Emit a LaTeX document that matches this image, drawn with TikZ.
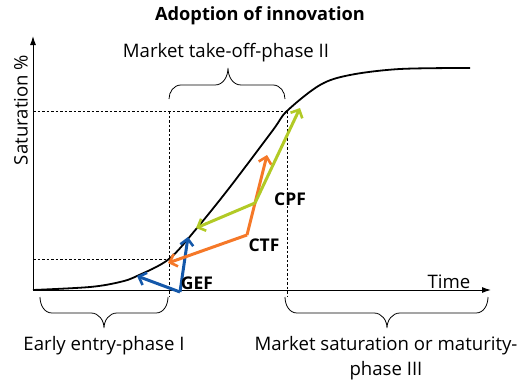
\documentclass[tikz,border=0pt]{standalone}
\usepackage{fontspec}
\setmainfont{Open Sans}
\usepackage{xcolor}
\usetikzlibrary{positioning,arrows.meta}

\definecolor{gefblue}{RGB}{20,88,170}
\definecolor{ctforange}{RGB}{245,120,40}
\definecolor{cpfgreen}{RGB}{178,202,38}

\begin{document}
\begin{tikzpicture}[
		x=1pt, y=-1pt,
		axis/.style={-{Latex[length=9pt,width=6pt]}, line width=1pt},
		guide/.style={dash pattern=on 2.5pt off 2pt, line width=0.6pt},
		curve/.style={line width=1.8pt},
		force/.style={-{Straight Barb[length=6.5pt,width=13pt,line width=2.6pt]}, line width=3pt},
		phase/.style={line width=0.8pt},
		lbl/.style={font=\fontsize{18.6}{24.5}\selectfont, align=center, inner sep=0pt},
		tag/.style={font=\bfseries\fontsize{17.5}{20}\selectfont, inner sep=0pt}
		]
		\useasboundingbox (0,0) rectangle (520,383);
		
		% Axes
		\coordinate (origin) at (33,290);
		\coordinate (ytop) at (33,36);
		\coordinate (xend) at (491,290);
		\draw[axis] (origin) -- (ytop);
		\draw[axis] (origin) -- (xend);
		
		% Phase limits
		\coordinate (lowsat) at (33,259);
		\coordinate (highsat) at (33,111);
		\coordinate (takeoff) at (169,259);
		\coordinate (maturity) at (287,111);
		\draw[guide] (lowsat) -- (takeoff);
		\draw[guide] (highsat) -- (maturity);
		\draw[guide] (169,111) -- (169,297);
		\draw[guide] (maturity) -- (287,297);
		
		% Diffusion curve
		\draw[curve] plot[smooth, tension=0.55] coordinates {
			(33,290) (90,287) (120,282) (137,276) (169,259) (197,228)
			(230,187) (273,130) (287,111) (320,85) (350,75) (400,69) (470,68)};
		
		% Braces
		\draw[phase] (169,99) to[out=90,in=180] (181,85) -- (215,85)
			to[out=0,in=-90] (228,68) to[out=-90,in=180] (241,85) -- (273,85)
			to[out=0,in=90] (285,99);
		\draw[phase] (40,297) to[out=-90,in=180] (52,313) -- (91,313)
			to[out=0,in=90] (104,328) to[out=90,in=180] (117,313) -- (156,313)
			to[out=0,in=-90] (168,297);
		\draw[phase] (285,297) to[out=-90,in=180] (297,313) -- (374,313)
			to[out=0,in=90] (387,328) to[out=90,in=180] (400,313) -- (476,313)
			to[out=0,in=-90] (488,297);
		
		% Texts
		\node[font=\bfseries\fontsize{18.2}{20}\selectfont] (title) at (260,16) {Adoption of innovation};
		\node[lbl] (phasetwo) at (226,53) {Market take-off-phase II};
		\node[lbl] (phaseone) at (104,346) {Early entry-phase I};
		\node[lbl] (phasethree) at (386,358) {Market saturation or maturity-\\phase III};
		\node[lbl, rotate=90] (ylabel) at (21,110) {Saturation \%};
		\node[lbl] (xlabel) at (449,282) {Time};
		
		% Forces
		\coordinate (gefstart) at (180,292);
		\coordinate (ctfstart) at (247,235);
		\coordinate (cpfstart) at (255,203);
		\coordinate (gefback) at (137,276);
		\coordinate (gefup) at (188,237);
		\coordinate (ctfback) at (168,263);
		\coordinate (ctfup) at (267,155);
		\coordinate (cpfback) at (196,228);
		\coordinate (cpfup) at (300,108);
		\draw[force, gefblue] (gefstart) -- (gefback);
		\draw[force, gefblue] (gefstart) -- (gefup);
		\draw[force, ctforange] (ctfstart) -- (ctfback);
		\draw[force, ctforange] (ctfstart) -- (ctfup);
		\draw[force, cpfgreen] (cpfstart) -- (cpfback);
		\draw[force, cpfgreen] (cpfstart) -- (cpfup);
		
		\node[tag] (gef) at (197,283) {GEF};
		\node[tag] (ctf) at (264,245) {CTF};
		\node[tag] (cpf) at (290,199) {CPF};
		
	\end{tikzpicture}
\end{document}
